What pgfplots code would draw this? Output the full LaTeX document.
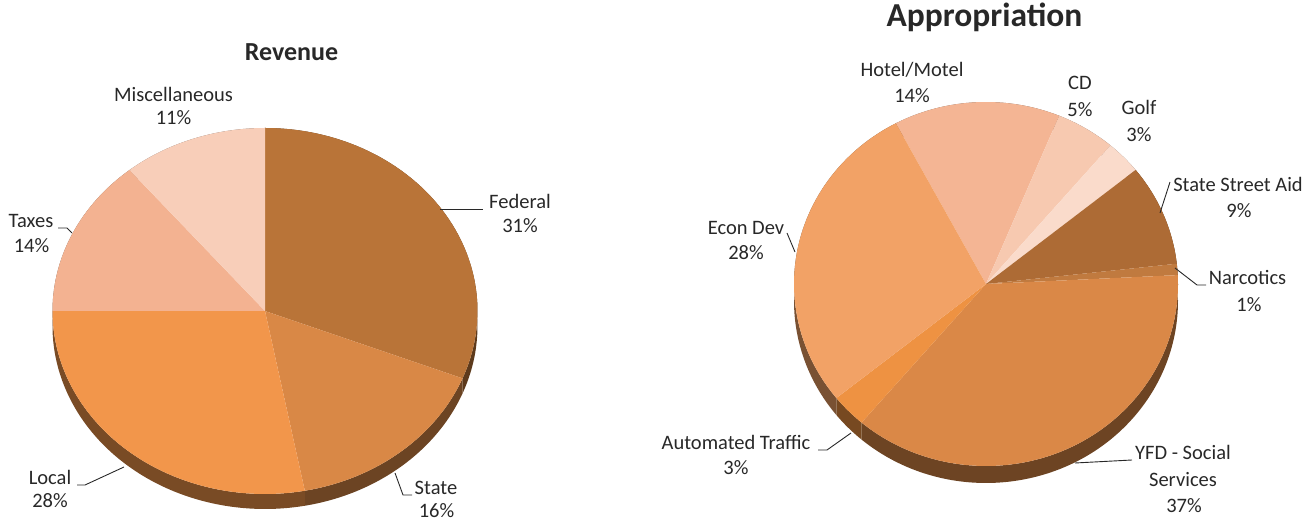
\documentclass[border=0pt]{standalone}
\usepackage{pgfplots}
\pgfplotsset{compat=1.18}
\usepackage{pgfplotstable}
\usepackage{fontspec}
\setmainfont{Carlito}

\definecolor{rFed}{RGB}{185,116,56}
\definecolor{rState}{RGB}{217,136,70}
\definecolor{rLocal}{RGB}{242,150,75}
\definecolor{rTaxes}{RGB}{243,178,145}
\definecolor{rMisc}{RGB}{248,206,185}
\definecolor{aHotel}{RGB}{244,181,148}
\definecolor{aCD}{RGB}{247,201,176}
\definecolor{aGolf}{RGB}{250,219,203}
\definecolor{aSSA}{RGB}{173,107,53}
\definecolor{aNarc}{RGB}{192,122,63}
\definecolor{aYFD}{RGB}{218,136,71}
\definecolor{aAuto}{RGB}{238,146,66}
\definecolor{aEcon}{RGB}{242,162,102}
\definecolor{txt}{RGB}{40,40,40}

\tikzset{
  lab/.style={font=\fontsize{20.5}{24}\selectfont, text=txt, anchor=base, inner sep=0pt},
  lead/.style={draw=txt, line width=0.9pt},
}

\pgfplotstableread[col sep=comma]{
label,value,color
Federal,31,rFed
State,16,rState
Local,28,rLocal
Taxes,14,rTaxes
Miscellaneous,11,rMisc
}\revtable

\pgfplotstableread[col sep=comma]{
label,value,color
Hotel/Motel,14,aHotel
CD,5,aCD
Golf,3,aGolf
State Street Aid,9,aSSA
Narcotics,1,aNarc
YFD - Social Services,37,aYFD
Automated Traffic,3,aAuto
Econ Dev,28,aEcon
}\apptable

% #1 table, #2 cx, #3 cy, #4 x radius, #5 y radius, #6 depth, #7 start angle
\newcommand\drawpie[7]{%
  \pgfplotstablegetrowsof{#1}%
  \pgfmathtruncatemacro\lastrow{\pgfplotsretval-1}%
  \xdef\curang{#7}%
  \foreach \i in {0,...,\lastrow}{%
    \pgfplotstablegetelem{\i}{value}\of{#1}%
    \pgfmathsetmacro\nextang{\curang-3.6*\pgfplotsretval}%
    \pgfplotstablegetelem{\i}{color}\of{#1}%
    \colorlet{slicecol}{\pgfplotsretval!50!black}%
    \fill[slicecol] (axis cs:#2,#3) ++(\curang:#4pt and #5pt)
      arc[start angle=\curang, end angle=\nextang, x radius=#4pt, y radius=#5pt]
      -- ++(0pt,-#6pt)
      arc[start angle=\nextang, end angle=\curang, x radius=#4pt, y radius=#5pt] -- cycle;
    \xdef\curang{\nextang}%
  }%
  \xdef\curang{#7}%
  \foreach \i in {0,...,\lastrow}{%
    \pgfplotstablegetelem{\i}{value}\of{#1}%
    \pgfmathsetmacro\nextang{\curang-3.6*\pgfplotsretval}%
    \pgfplotstablegetelem{\i}{color}\of{#1}%
    \colorlet{slicecol}{\pgfplotsretval}%
    \fill[slicecol] (axis cs:#2,#3) -- ++(\curang:#4pt and #5pt)
      arc[start angle=\curang, end angle=\nextang, x radius=#4pt, y radius=#5pt] -- cycle;
    \xdef\curang{\nextang}%
  }%
}

\begin{document}
\begin{tikzpicture}
\useasboundingbox (0,0) rectangle (1307pt,522pt);
\begin{axis}[
  at={(0,0)}, anchor=origin,
  scale only axis, width=1307pt, height=522pt,
  xmin=0, xmax=1307, ymin=0, ymax=522,
  hide axis, clip=false,
]
\pgfplotsextra{\drawpie{\revtable}{265}{211}{212.5}{183}{15}{90}}
\pgfplotsextra{\drawpie{\apptable}{986}{238}{192}{182}{17}{118}}

% titles
\node[anchor=base, inner sep=0pt, text=txt, font=\fontsize{26}{30}\selectfont\bfseries] at (axis cs:291.5,461.3) {Revenue};
\node[anchor=base, inner sep=0pt, text=txt, font=\fontsize{33.5}{38}\selectfont\bfseries] at (axis cs:984.5,495) {Appropriation};

% revenue labels
\node[lab] at (axis cs:173.5,420.3) {Miscellaneous};
\node[lab] at (axis cs:173.5,397) {11\%};
\node[lab] at (axis cs:520,313) {Federal};
\node[lab] at (axis cs:520,289) {31\%};
\node[lab] at (axis cs:436,27) {State};
\node[lab] at (axis cs:436.5,4) {16\%};
\node[lab] at (axis cs:50,37) {Local};
\node[lab] at (axis cs:50,14) {28\%};
\node[lab] at (axis cs:31,294) {Taxes};
\node[lab] at (axis cs:31.5,269) {14\%};

\draw[lead] (axis cs:440,312.5) -- (axis cs:483,312.5);
\draw[lead] (axis cs:395,49) -- (axis cs:403,27) -- (axis cs:412,27);
\draw[lead] (axis cs:124,55) -- (axis cs:85,37) -- (axis cs:77,37);
\draw[lead] (axis cs:72,289) -- (axis cs:67,294) -- (axis cs:58,294);

% appropriation labels
\node[lab] at (axis cs:912,445.3) {Hotel/Motel};
\node[lab] at (axis cs:912,419) {14\%};
\node[lab] at (axis cs:1080,432) {CD};
\node[lab] at (axis cs:1080,405) {5\%};
\node[lab] at (axis cs:1139,407) {Golf};
\node[lab] at (axis cs:1139,380) {3\%};
\node[lab] at (axis cs:1238,330) {State Street Aid};
\node[lab] at (axis cs:1239,304) {9\%};
\node[lab] at (axis cs:1247.5,237) {Narcotics};
\node[lab] at (axis cs:1249,210) {1\%};
\node[lab] at (axis cs:1183,62) {YFD - Social};
\node[lab] at (axis cs:1183,35) {Services};
\node[lab] at (axis cs:1184,9) {37\%};
\node[lab] at (axis cs:736,72) {Automated Traffic};
\node[lab] at (axis cs:736,47) {3\%};
\node[lab] at (axis cs:746,287) {Econ Dev};
\node[lab] at (axis cs:746,262) {28\%};

\draw[lead] (axis cs:1160,309) -- (axis cs:1170,340);
\draw[lead] (axis cs:1175,254) -- (axis cs:1197,237) -- (axis cs:1206,237);
\draw[lead] (axis cs:1075,59) -- (axis cs:1132,62);
\draw[lead] (axis cs:818,72) -- (axis cs:827,72) -- (axis cs:851,89);
\draw[lead] (axis cs:787,289) -- (axis cs:795,270);
\end{axis}
\end{tikzpicture}
\end{document}
